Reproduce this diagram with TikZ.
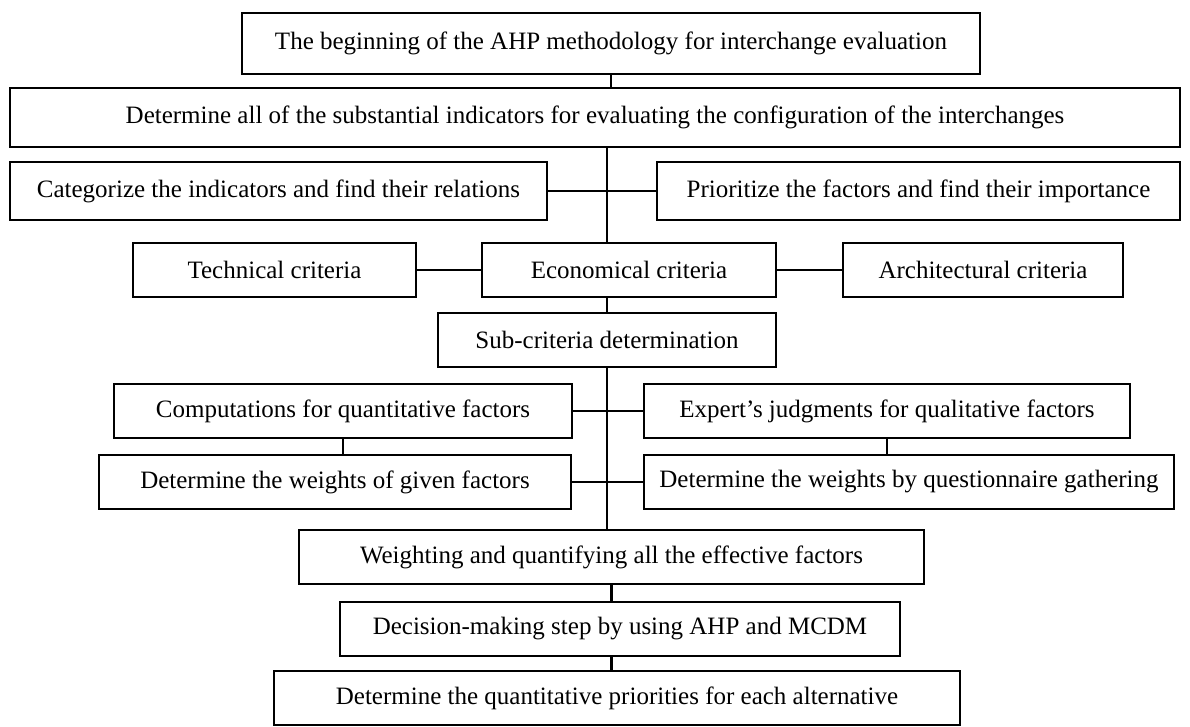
\documentclass[tikz,border=0pt]{standalone}
\usepackage{fontspec}
\setmainfont{Liberation Serif}

\tikzset{
  stepbox/.style={draw, line width=1.2pt, inner sep=0pt, minimum height=27pt,
    font=\fontsize{12.5}{14}\selectfont},
  link/.style={line width=1.2pt}
}

\begin{document}
\begin{tikzpicture}[x=0.5pt,y=-0.5pt]

\useasboundingbox (0,0) rectangle (1190,727);

%% Start and indicators
\node [stepbox, minimum width=369pt, minimum height=30.5pt] (begin) at (611,43.5)
  {The beginning of the AHP methodology for interchange evaluation};
\node [stepbox, minimum width=585pt, minimum height=29.5pt] (indic) at (595,117.5)
  {Determine all of the substantial indicators for evaluating the configuration of the interchanges};

%% Categorize / prioritize
\node [stepbox, minimum width=268.5pt, minimum height=29pt] (categ) at (278.5,191)
  {Categorize the indicators and find their relations};
\node [stepbox, minimum width=261.5pt, minimum height=29pt] (prior) at (918.5,191)
  {Prioritize the factors and find their importance};

%% Criteria
\node [stepbox, minimum width=141.5pt] (tech) at (274.5,270) {Technical criteria};
\node [stepbox, minimum width=147pt] (econ) at (629,270) {Economical criteria};
\node [stepbox, minimum width=140pt] (arch) at (983,270) {Architectural criteria};
\node [stepbox, minimum width=169pt] (sub) at (607,340) {Sub-criteria determination};

%% Quantitative / qualitative factors
\node [stepbox, minimum width=229pt] (comp) at (343,411) {Computations for quantitative factors};
\node [stepbox, minimum width=243pt] (expert) at (887,411) {Expert’s judgments for qualitative factors};
\node [stepbox, minimum width=236pt] (wgiven) at (335,482) {Determine the weights of given factors};
\node [stepbox, minimum width=265pt] (wquest) at (909,482) {Determine the weights by questionnaire gathering};

%% Final steps
\node [stepbox, minimum width=312.5pt] (weighting) at (611.5,557) {Weighting and quantifying all the effective factors};
\node [stepbox, minimum width=280pt] (decision) at (620,629) {Decision-making step by using AHP and MCDM};
\node [stepbox, minimum width=343pt] (final) at (617,698) {Determine the quantitative priorities for each alternative};

%% Connectors
\draw [link] (begin.south) -- (begin.south |- indic.north);
\draw [link] (indic.south -| sub) -- (econ.north -| sub);
\draw [link] (categ.east) -- (prior.west);
\draw [link] (tech.east) -- (econ.west);
\draw [link] (econ.east) -- (arch.west);
\draw [link] (econ.south -| sub) -- (sub.north);
\draw [link] (sub.south) -- (weighting.north -| sub);
\draw [link] (comp.east) -- (expert.west);
\draw [link] (comp.south) -- (comp.south |- wgiven.north);
\draw [link] (expert.south) -- (expert.south |- wquest.north);
\draw [link] (wgiven.east) -- (wquest.west);
\draw [link] (weighting.south) -- (weighting.south |- decision.north);
\draw [link] (decision.south -| weighting) -- (final.north -| weighting);

\end{tikzpicture}
\end{document}
